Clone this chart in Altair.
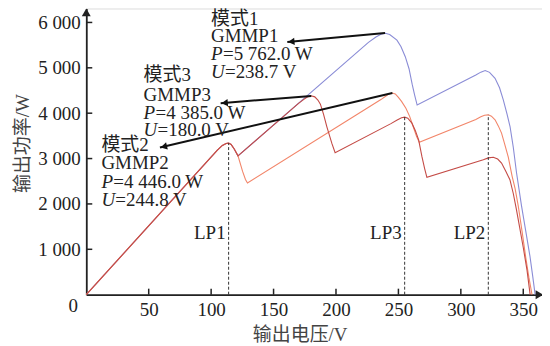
import altair as alt
import pandas as pd

# ---------------- data ----------------
# shared start of all three P-U curves (up to just after LP1)
shared_v = [0, 105, 109, 112, 114, 116, 118.5, 121.5]
shared_p = [0, 3187, 3290, 3332, 3341, 3310, 3210, 3060]

# mode 1 (blue) continuation
mode1_v = [226, 232, 236, 239.5, 243, 248.8, 252, 255.5, 258.5, 261, 263, 265,
           312, 316, 319.5, 323, 327.4, 331, 334, 337, 339.4, 342, 344.6, 348.6,
           352, 355.3, 357.5, 359.5]
mode1_p = [5560, 5680, 5740, 5762, 5735, 5611, 5470, 5245, 4980, 4640, 4400, 4180,
           4840, 4905, 4940, 4900, 4770, 4560, 4293, 3980, 3706, 3250, 2688, 1956,
           1400, 857, 420, 0]

# mode 2 (orange) continuation
mode2_v = [125.2, 127.5, 129.1, 236, 240, 242.5, 245, 247.5, 250, 252.5, 256, 259,
           262, 264.5, 266.7, 312, 316, 319, 322, 324.5, 327.4, 330, 332.6, 335,
           338, 341, 343.5, 346, 349, 352, 354.5, 357]
mode2_p = [2717, 2540, 2462, 4300, 4380, 4425, 4446, 4425, 4350, 4260, 4110, 3930,
           3690, 3490, 3360, 3860, 3920, 3955, 3963, 3935, 3853, 3720, 3561, 3330,
           3030, 2620, 2330, 1950, 1400, 820, 380, 0]

# mode 3 (dark red) continuation
mode3_v = [170, 174, 177, 180, 183, 185.5, 187.5, 190, 192.7, 196.7, 199.3,
           244, 249, 252.5, 255, 257.5, 260.8, 263.5, 266.2, 268.8, 271, 272.8,
           318, 322, 326, 329.5, 332.6, 336, 339.3, 342, 344.5, 347, 350, 353, 355.5]
mode3_p = [4215, 4300, 4355, 4385, 4360, 4290, 4200, 3980, 3700, 3333, 3128,
           3770, 3850, 3898, 3912, 3890, 3780, 3620, 3413, 3046, 2780, 2585,
           2975, 3015, 3030, 2990, 2901, 2720, 2534, 2230, 1880, 1500, 1040, 540, 0]

x_ticks = [50, 100, 150, 200, 250, 300, 350]
y_ticks = [1000, 2000, 3000, 4000, 5000, 6000]

lp_names = ["LP1", "LP3", "LP2"]
lp_v = [114, 255, 322]
lp_p = [3341, 3912, 3963]
lp_label_p = [1356, 1356, 1356]

ann_title = ["模式1", "模式3", "模式2"]
ann_gmmp = ["GMMP1", "GMMP3", "GMMP2"]
ann_prest = ["=5 762.0 W", "=4 385.0 W", "=4 446.0 W"]
ann_urest = ["=238.7 V", "=180.0 V", "=244.8 V"]
ann_x = [99.9, 45.9, 12.1]
ann_y_title = [6085, 4835, 3297]
ann_y_gmmp = [5703, 4396, 2901]
ann_y_p = [5312, 4004, 2473]
ann_y_u = [4908, 3626, 2088]

arr_v1 = [239.3, 180.2, 245.2]
arr_p1 = [5766, 4381, 4447]
arr_v2 = [161.0, 107.6, 59.0]
arr_p2 = [5567, 4220, 3242]
head_v = [164.2, 110.8, 62.1]
head_p = [5575, 4227, 3262]
head_angle = [354.8, 355.4, 346.8]

# ---------------- tables ----------------
rows = []
for name, vv, pp in [("mode1", mode1_v, mode1_p), ("mode2", mode2_v, mode2_p),
                     ("mode3", mode3_v, mode3_p)]:
    for i, (v, p) in enumerate(zip(shared_v + vv, shared_p + pp)):
        rows.append({"series": name, "v": v, "p": p, "i": i})
curves = pd.DataFrame(rows)

lp_df = pd.DataFrame({"name": lp_names, "v": lp_v, "p": lp_p, "lp": lp_label_p, "zero": 0})
ann_df = pd.DataFrame({"t": ann_title, "g": ann_gmmp, "pr": ann_prest, "ur": ann_urest,
                       "x": ann_x, "yt": ann_y_title, "yg": ann_y_gmmp,
                       "yp": ann_y_p, "yu": ann_y_u, "P": "P", "U": "U"})
arr_df = pd.DataFrame({"v1": arr_v1, "p1": arr_p1, "v2": arr_v2, "p2": arr_p2,
                       "hv": head_v, "hp": head_p, "ang": head_angle})
xt_df = pd.DataFrame({"v": x_ticks})
yt_df = pd.DataFrame({"p": y_ticks})

W, H = 457, 287
xs = alt.Scale(domain=[0, 365], nice=False, zero=False)
ys = alt.Scale(domain=[0, 6308], nice=False, zero=False)
SERIF = "Liberation Serif, Noto Sans CJK SC"
FS = 19

x_axis = alt.Axis(values=x_ticks, ticks=False, tickSize=0, grid=False,
                  domainColor="#222", domainWidth=1.8,
                  labelFont="Liberation Serif", labelFontSize=FS, labelColor="#222",
                  labelPadding=6, title="输出电压/V", titleFont=SERIF,
                  titleFontSize=FS, titleFontWeight="normal", titleColor="#444",
                  titleX=214, titleY=40, titleBaseline="middle", titleAlign="center")
y_axis = alt.Axis(values=y_ticks, ticks=False, tickSize=0, grid=False,
                  domainColor="#222", domainWidth=1.8,
                  labelExpr="replace(format(datum.value, ','), ',', ' ')",
                  labelFont="Liberation Serif", labelFontSize=FS, labelColor="#222",
                  labelPadding=6, labelBaseline="middle",
                  title="输出功率/W", titleFont=SERIF, titleFontSize=FS,
                  titleFontWeight="normal", titleColor="#444", titleAngle=270,
                  titleX=-64, titleY=135, titleBaseline="middle", titleAlign="center")


def X(field):
    return alt.X(f"{field}:Q", scale=xs, axis=x_axis)


def Y(field):
    return alt.Y(f"{field}:Q", scale=ys, axis=y_axis)


colors = {"mode1": "#8a8cd6", "mode2": "#f2866a", "mode3": "#c44b46"}

layers = []
for s in ["mode1", "mode2", "mode3"]:
    layers.append(
        alt.Chart(curves).transform_filter(alt.datum.series == s)
        .mark_line(color=colors[s], strokeWidth=1.1)
        .encode(x=X("v"), y=Y("p"), order="i:Q"))

# inward ticks
layers.append(alt.Chart(xt_df).mark_rule(color="#222", strokeWidth=1.5).encode(
    x=X("v"), y=alt.value(H), y2=alt.value(H - 6)))
layers.append(alt.Chart(yt_df).mark_rule(color="#222", strokeWidth=1.5).encode(
    y=Y("p"), x=alt.value(0), x2=alt.value(6)))

# origin label "0"
layers.append(alt.Chart(pd.DataFrame({"v": [0], "p": [0], "t": ["0"]}))
              .mark_text(font="Liberation Serif", fontSize=FS, color="#222",
                         dx=-13, dy=11, baseline="middle")
              .encode(x=X("v"), y=Y("p"), text="t:N"))

# axis arrow heads
layers.append(alt.Chart(pd.DataFrame({"v": [363], "p": [0]}))
              .mark_point(shape="triangle-right", filled=True, color="#222", size=80, opacity=1)
              .encode(x=X("v"), y=Y("p")))
layers.append(alt.Chart(pd.DataFrame({"v": [0], "p": [6220]}))
              .mark_point(shape="triangle-up", filled=True, color="#222", size=80, opacity=1)
              .encode(x=X("v"), y=Y("p")))

# LP dashed lines + labels
layers.append(alt.Chart(lp_df).mark_rule(color="#333", strokeWidth=1, strokeDash=[3, 2])
              .encode(x=X("v"), y=Y("zero"), y2="p:Q"))
layers.append(alt.Chart(lp_df).mark_text(font="Liberation Serif", fontSize=FS, color="#222",
                                         align="right", baseline="middle", dx=-3)
              .encode(x=X("v"), y=Y("lp"), text="name:N"))

# annotation arrows
layers.append(alt.Chart(arr_df).mark_rule(color="#111", strokeWidth=2)
              .encode(x=X("v1"), y=Y("p1"), x2="v2:Q", y2="p2:Q"))
layers.append(alt.Chart(arr_df).mark_point(shape="triangle-left", filled=True, color="#111",
                                           size=55, opacity=1)
              .encode(x=X("hv"), y=Y("hp"), angle=alt.Angle("ang:Q", scale=None)))


# annotation texts
def txt(field, yfield, italic=False, dx=0):
    return (alt.Chart(ann_df)
            .mark_text(font=SERIF, fontSize=FS, color="#222", align="left",
                       baseline="middle", dx=dx,
                       fontStyle="italic" if italic else "normal")
            .encode(x=X("x"), y=Y(yfield), text=f"{field}:N"))


layers += [txt("t", "yt"), txt("g", "yg"), txt("P", "yp", italic=True),
           txt("U", "yu", italic=True), txt("pr", "yp", dx=12), txt("ur", "yu", dx=14)]

chart = alt.layer(*layers).properties(
    width=W, height=H,
    autosize=alt.AutoSizeParams(type="none"),
    padding={"left": 78.5, "top": 0, "right": 0, "bottom": 51},
).configure_view(stroke=None).configure(background="white")

chart.save("out.html", embed_options={"renderer": "svg", "actions": False})
